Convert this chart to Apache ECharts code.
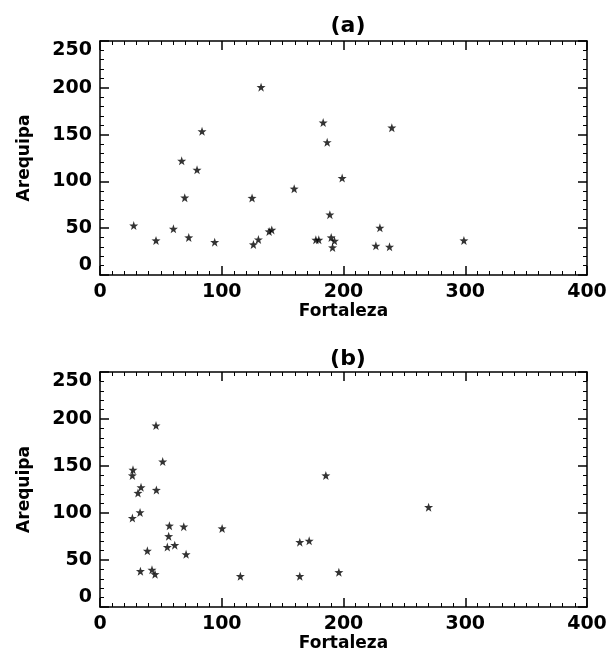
<!DOCTYPE html>
<html>
<head>
<meta charset="utf-8">
<script src="https://cdn.jsdelivr.net/npm/echarts@6/dist/echarts.min.js"></script>
<style>
  html, body { margin: 0; padding: 0; background: #fff; }
  #chart { width: 610px; height: 654px; }
</style>
</head>
<body>
<div id="chart"></div>
<script>
// Panel titles and axis names
const panelTitles = ['(a)', '(b)'];
const xName = 'Fortaleza';
const yName = 'Arequipa';

// Tick values shared by both panels
const xTicks = [0, 100, 200, 300, 400];
const yTicks = [0, 50, 100, 150, 200, 250];

// Panel (a)
const fortalezaA = [27.7, 46.0, 60.3, 67.1, 69.6, 72.9, 79.7, 83.8, 94.2, 124.9,
                    126.0, 130.1, 132.3, 138.9, 141.1, 159.5, 177.3, 179.7, 183.3, 186.6,
                    188.8, 189.9, 191.0, 192.6, 198.9, 226.6, 229.9, 237.8, 239.7, 298.9];
const arequipaA  = [52.8, 36.9, 49.3, 122.0, 82.6, 40.1, 112.4, 153.5, 35.1, 82.3,
                    32.6, 37.9, 200.7, 46.5, 48.2, 92.2, 37.6, 37.6, 162.8, 141.8,
                    64.5, 40.1, 29.4, 36.5, 103.5, 31.2, 50.4, 30.1, 157.4, 36.9];

// Panel (b)
const fortalezaB = [27.1, 26.6, 31.2, 33.7, 46.0, 46.3, 51.5, 26.6, 32.9, 57.0,
                    68.8, 56.4, 55.3, 61.4, 38.9, 70.7, 33.2, 42.7, 45.2, 100.3,
                    115.3, 164.1, 171.8, 164.1, 185.5, 196.2, 269.9];
const arequipaB  = [145.9, 139.9, 121.3, 127.3, 193.0, 124.5, 154.7, 94.6, 100.6, 86.5,
                    85.5, 75.3, 63.7, 65.8, 59.8, 56.0, 38.1, 39.5, 34.9, 83.5,
                    32.8, 69.0, 70.4, 32.8, 139.9, 37.0, 106.2];

const STAR = 'path://M0,-10 L2.35,-3.24 L9.51,-3.09 L3.80,1.24 L5.88,8.09 L0,4 L-5.88,8.09 L-3.80,1.24 L-9.51,-3.09 L-2.35,-3.24 Z';
const FONT = 'DejaVu Sans';
const INK = '#000';

const grids = [
  { left: 100, top: 41, width: 487, height: 234 },
  { left: 100, top: 372, width: 487, height: 235 }
];

const lineStyle = { color: INK, width: 1.5 };

function xAxes(gi) {
  const base = {
    gridIndex: gi, type: 'value',
    min: xTicks[0], max: xTicks[xTicks.length - 1], interval: xTicks[1] - xTicks[0],
    splitLine: { show: false },
    axisLine: { show: true, onZero: false, lineStyle },
    axisTick: { show: true, inside: true, length: 9, lineStyle },
    minorTick: { show: true, splitNumber: 10, length: 4, lineStyle: { color: INK, width: 1 } }
  };
  return [
    Object.assign({}, base, {
      position: 'bottom',
      name: xName, nameLocation: 'middle', nameGap: 21,
      nameTextStyle: { fontFamily: FONT, fontWeight: 'bold', fontSize: 17, color: INK },
      axisLabel: { show: true, margin: 8, fontFamily: FONT, fontWeight: 'bold', fontSize: 19, color: INK }
    }),
    Object.assign({}, base, { position: 'top', axisLabel: { show: false } })
  ];
}

function yAxes(gi) {
  const base = {
    gridIndex: gi, type: 'value',
    min: yTicks[0], max: yTicks[yTicks.length - 1], interval: yTicks[1] - yTicks[0],
    splitLine: { show: false },
    axisLine: { show: true, onZero: false, lineStyle },
    axisTick: { show: true, inside: true, length: 9, lineStyle },
    minorTick: { show: true, splitNumber: 5, length: 4, lineStyle: { color: INK, width: 1 } }
  };
  return [
    Object.assign({}, base, {
      position: 'left',
      name: yName, nameLocation: 'middle', nameGap: 67,
      nameTextStyle: { fontFamily: FONT, fontWeight: 'bold', fontSize: 17, color: INK },
      axisLabel: {
        show: true, margin: 8, fontFamily: FONT, fontWeight: 'bold', fontSize: 19, color: INK,
        verticalAlignMinLabel: 'bottom', verticalAlignMaxLabel: 'top'
      }
    }),
    Object.assign({}, base, { position: 'right', axisLabel: { show: false } })
  ];
}

const option = {
  backgroundColor: '#fff',
  animation: false,
  title: [
    { text: panelTitles[0], left: 343, top: 10, textAlign: 'center',
      textStyle: { fontFamily: FONT, fontWeight: 'bold', fontSize: 22, color: INK } },
    { text: panelTitles[1], left: 343, top: 343, textAlign: 'center',
      textStyle: { fontFamily: FONT, fontWeight: 'bold', fontSize: 22, color: INK } }
  ],
  grid: grids,
  xAxis: [...xAxes(0), ...xAxes(1)],
  yAxis: [...yAxes(0), ...yAxes(1)],
  series: [
    {
      type: 'scatter', xAxisIndex: 0, yAxisIndex: 0,
      symbol: STAR, symbolSize: 9, itemStyle: { color: INK },
      data: fortalezaA.map((x, i) => [x, arequipaA[i]])
    },
    {
      type: 'scatter', xAxisIndex: 2, yAxisIndex: 2,
      symbol: STAR, symbolSize: 9, itemStyle: { color: INK },
      data: fortalezaB.map((x, i) => [x, arequipaB[i]])
    }
  ]
};

const chart = echarts.init(document.getElementById('chart'), null, { renderer: 'canvas' });
chart.setOption(option);
</script>
</body>
</html>
